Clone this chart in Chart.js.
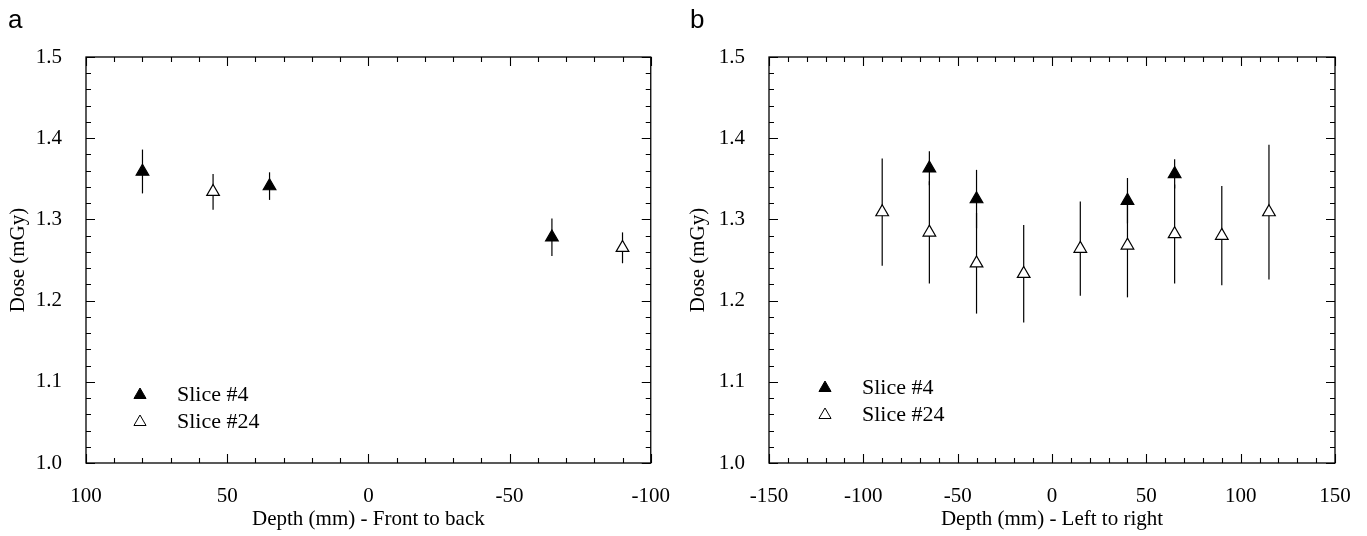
<!DOCTYPE html>
<html>
<head>
<meta charset="utf-8">
<script src="https://cdn.jsdelivr.net/npm/chart.js@4.4.1/dist/chart.umd.min.js"></script>
<style>
  body { margin: 0; background: #fff; }
  #wrap { position: relative; width: 1367px; height: 536px; }
  .panel { position: absolute; top: 0; height: 536px; }
</style>
</head>
<body>
<div id="wrap">
  <div class="panel" style="left:0;width:683px"><canvas id="chartA" width="683" height="536"></canvas></div>
  <div class="panel" style="left:683px;width:684px"><canvas id="chartB" width="684" height="536"></canvas></div>
</div>
<script>
// panel a - front to back
const depthA4 = [80, 35, -65];
const doseA4 = [1.359, 1.341, 1.278];
const errA4 = [0.027, 0.017, 0.023];
const depthA24 = [55, -90];
const doseA24 = [1.334, 1.265];
const errA24 = [0.022, 0.019];

// panel b - left to right
const depthB4 = [-65, -40, 40, 65];
const doseB4 = [1.363, 1.325, 1.323, 1.356];
const errB4 = [0.021, 0.036, 0.028, 0.018];
const depthB24 = [-90, -65, -40, -15, 15, 40, 65, 90, 115];
const doseB24 = [1.309, 1.284, 1.246, 1.233, 1.264, 1.268, 1.282, 1.280, 1.309];
const errB24 = [0.066, 0.063, 0.062, 0.060, 0.058, 0.064, 0.061, 0.061, 0.083];

const seriesNames = ['Slice #4', 'Slice #24'];
const doseTicks = [1.0, 1.1, 1.2, 1.3, 1.4, 1.5];

const serif = 'Liberation Serif, Times New Roman, serif';

const toPoints = (xs, ys) => xs.map((x, i) => ({x: x, y: ys[i]}));

// vertical error bars, drawn under the markers
const errorBars = {
    id: 'errorBars',
    beforeDatasetsDraw(chart) {
        const ctx = chart.ctx;
        const y = chart.scales.y;
        ctx.save();
        ctx.strokeStyle = '#000';
        ctx.lineWidth = 1.2;
        chart.data.datasets.forEach((ds, i) => {
            const meta = chart.getDatasetMeta(i);
            ds.data.forEach((p, j) => {
                const px = meta.data[j].x;
                ctx.beginPath();
                ctx.moveTo(px, y.getPixelForValue(p.y - ds.err[j]));
                ctx.lineTo(px, y.getPixelForValue(p.y + ds.err[j]));
                ctx.stroke();
            });
        });
        ctx.restore();
    }
};

// closed frame with inward ticks on all four sides
const frameTicks = {
    id: 'frameTicks',
    afterDraw(chart) {
        const {ctx, chartArea: a, scales} = chart;
        const xs = scales.x, ys = scales.y;
        ctx.save();
        ctx.strokeStyle = '#000';
        ctx.lineWidth = 1.3;
        ctx.strokeRect(a.left, a.top, a.right - a.left, a.bottom - a.top);
        ctx.lineWidth = 1.1;
        ctx.beginPath();
        const nx = Math.round((xs.max - xs.min) / 10);
        for (let k = 0; k <= nx; k++) {
            const v = xs.min + k * 10;
            const len = (v % 50 === 0) ? 9 : 5;
            const px = Math.round(xs.getPixelForValue(v)) + 0.5;
            ctx.moveTo(px, a.bottom); ctx.lineTo(px, a.bottom - len);
            ctx.moveTo(px, a.top); ctx.lineTo(px, a.top + len);
        }
        for (let k = 0; k <= 25; k++) {
            const v = 1.0 + k * 0.02;
            const len = (k % 5 === 0) ? 9 : 5;
            const py = Math.round(ys.getPixelForValue(v)) + 0.5;
            ctx.moveTo(a.left, py); ctx.lineTo(a.left + len, py);
            ctx.moveTo(a.right, py); ctx.lineTo(a.right - len, py);
        }
        ctx.stroke();
        ctx.restore();
    }
};

// legend inside the plot + panel letter
const innerLegend = {
    id: 'innerLegend',
    afterDraw(chart, args, opts) {
        const ctx = chart.ctx;
        const a = chart.chartArea;
        ctx.save();
        ctx.fillStyle = '#000';
        ctx.font = '26px Liberation Sans, Arial, sans-serif';
        ctx.textBaseline = 'alphabetic';
        ctx.fillText(opts.letter, opts.letterX, 28);

        ctx.font = '22px ' + serif;
        ctx.textBaseline = 'middle';
        chart.data.datasets.forEach((ds, i) => {
            const mx = a.left + opts.dx;
            const my = a.top + opts.dy + i * 27;
            ctx.fillStyle = ds.backgroundColor;
            ctx.strokeStyle = '#000';
            ctx.lineWidth = 1;
            Chart.helpers.drawPoint(ctx, {pointStyle: 'triangle', radius: 7, rotation: 0, borderWidth: 1}, mx, my);
            ctx.fillStyle = '#000';
            ctx.fillText(ds.label, mx + 37, my);
        });
        ctx.restore();
    }
};

function makeChart(id, cfg) {
    return new Chart(document.getElementById(id), {
        type: 'scatter',
        data: {
            datasets: [
                {
                    label: seriesNames[0],
                    data: toPoints(cfg.x4, cfg.y4),
                    err: cfg.e4,
                    backgroundColor: '#000',
                    borderColor: '#000'
                },
                {
                    label: seriesNames[1],
                    data: toPoints(cfg.x24, cfg.y24),
                    err: cfg.e24,
                    backgroundColor: '#fff',
                    borderColor: '#000'
                }
            ]
        },
        options: {
            responsive: false,
            animation: false,
            clip: false,
            layout: {padding: {left: 0, right: cfg.padRight, top: 57, bottom: 0}},
            elements: {
                point: {pointStyle: 'triangle', radius: 7.3, borderWidth: 1.2, hoverRadius: 7.3}
            },
            plugins: {
                legend: {display: false},
                tooltip: {enabled: false},
                innerLegend: {letter: cfg.letter, letterX: cfg.letterX, dx: cfg.legDx, dy: cfg.legDy}
            },
            scales: {
                x: {
                    type: 'linear',
                    min: cfg.xmin,
                    max: cfg.xmax,
                    reverse: cfg.reverse,
                    grid: {display: false},
                    border: {display: false},
                    ticks: {
                        stepSize: 50,
                        padding: 13,
                        color: '#000',
                        maxRotation: 0,
                        autoSkip: false,
                        font: {family: serif, size: 21}
                    },
                    title: {
                        display: true,
                        text: cfg.xTitle,
                        color: '#000',
                        font: {family: serif, size: 21},
                        padding: {top: 0, bottom: 4}
                    },
                    afterFit(s) { s.height = 73; }
                },
                y: {
                    type: 'linear',
                    min: 1.0,
                    max: 1.5,
                    grid: {display: false},
                    border: {display: false},
                    afterBuildTicks(s) { s.ticks = doseTicks.map(v => ({value: v})); },
                    ticks: {
                        padding: 16,
                        color: '#000',
                        font: {family: serif, size: 21},
                        callback: v => v.toFixed(1)
                    },
                    title: {
                        display: true,
                        text: 'Dose (mGy)',
                        color: '#000',
                        font: {family: serif, size: 21},
                        padding: {top: cfg.yTitlePad, bottom: 0}
                    },
                    afterFit(s) { s.width = 86; }
                }
            }
        },
        plugins: [errorBars, frameTicks, innerLegend]
    });
}

makeChart('chartA', {
    x4: depthA4, y4: doseA4, e4: errA4,
    x24: depthA24, y24: doseA24, e24: errA24,
    xmin: -100, xmax: 100, reverse: true,
    xTitle: 'Depth (mm) - Front to back',
    padRight: 31, yTitlePad: 6,
    letter: 'a', letterX: 8, legDx: 54, legDy: 338
});

makeChart('chartB', {
    x4: depthB4, y4: doseB4, e4: errB4,
    x24: depthB24, y24: doseB24, e24: errB24,
    xmin: -150, xmax: 150, reverse: false,
    xTitle: 'Depth (mm) - Left to right',
    padRight: 32, yTitlePad: 3,
    letter: 'b', letterX: 7, legDx: 56, legDy: 331
});
</script>
</body>
</html>
